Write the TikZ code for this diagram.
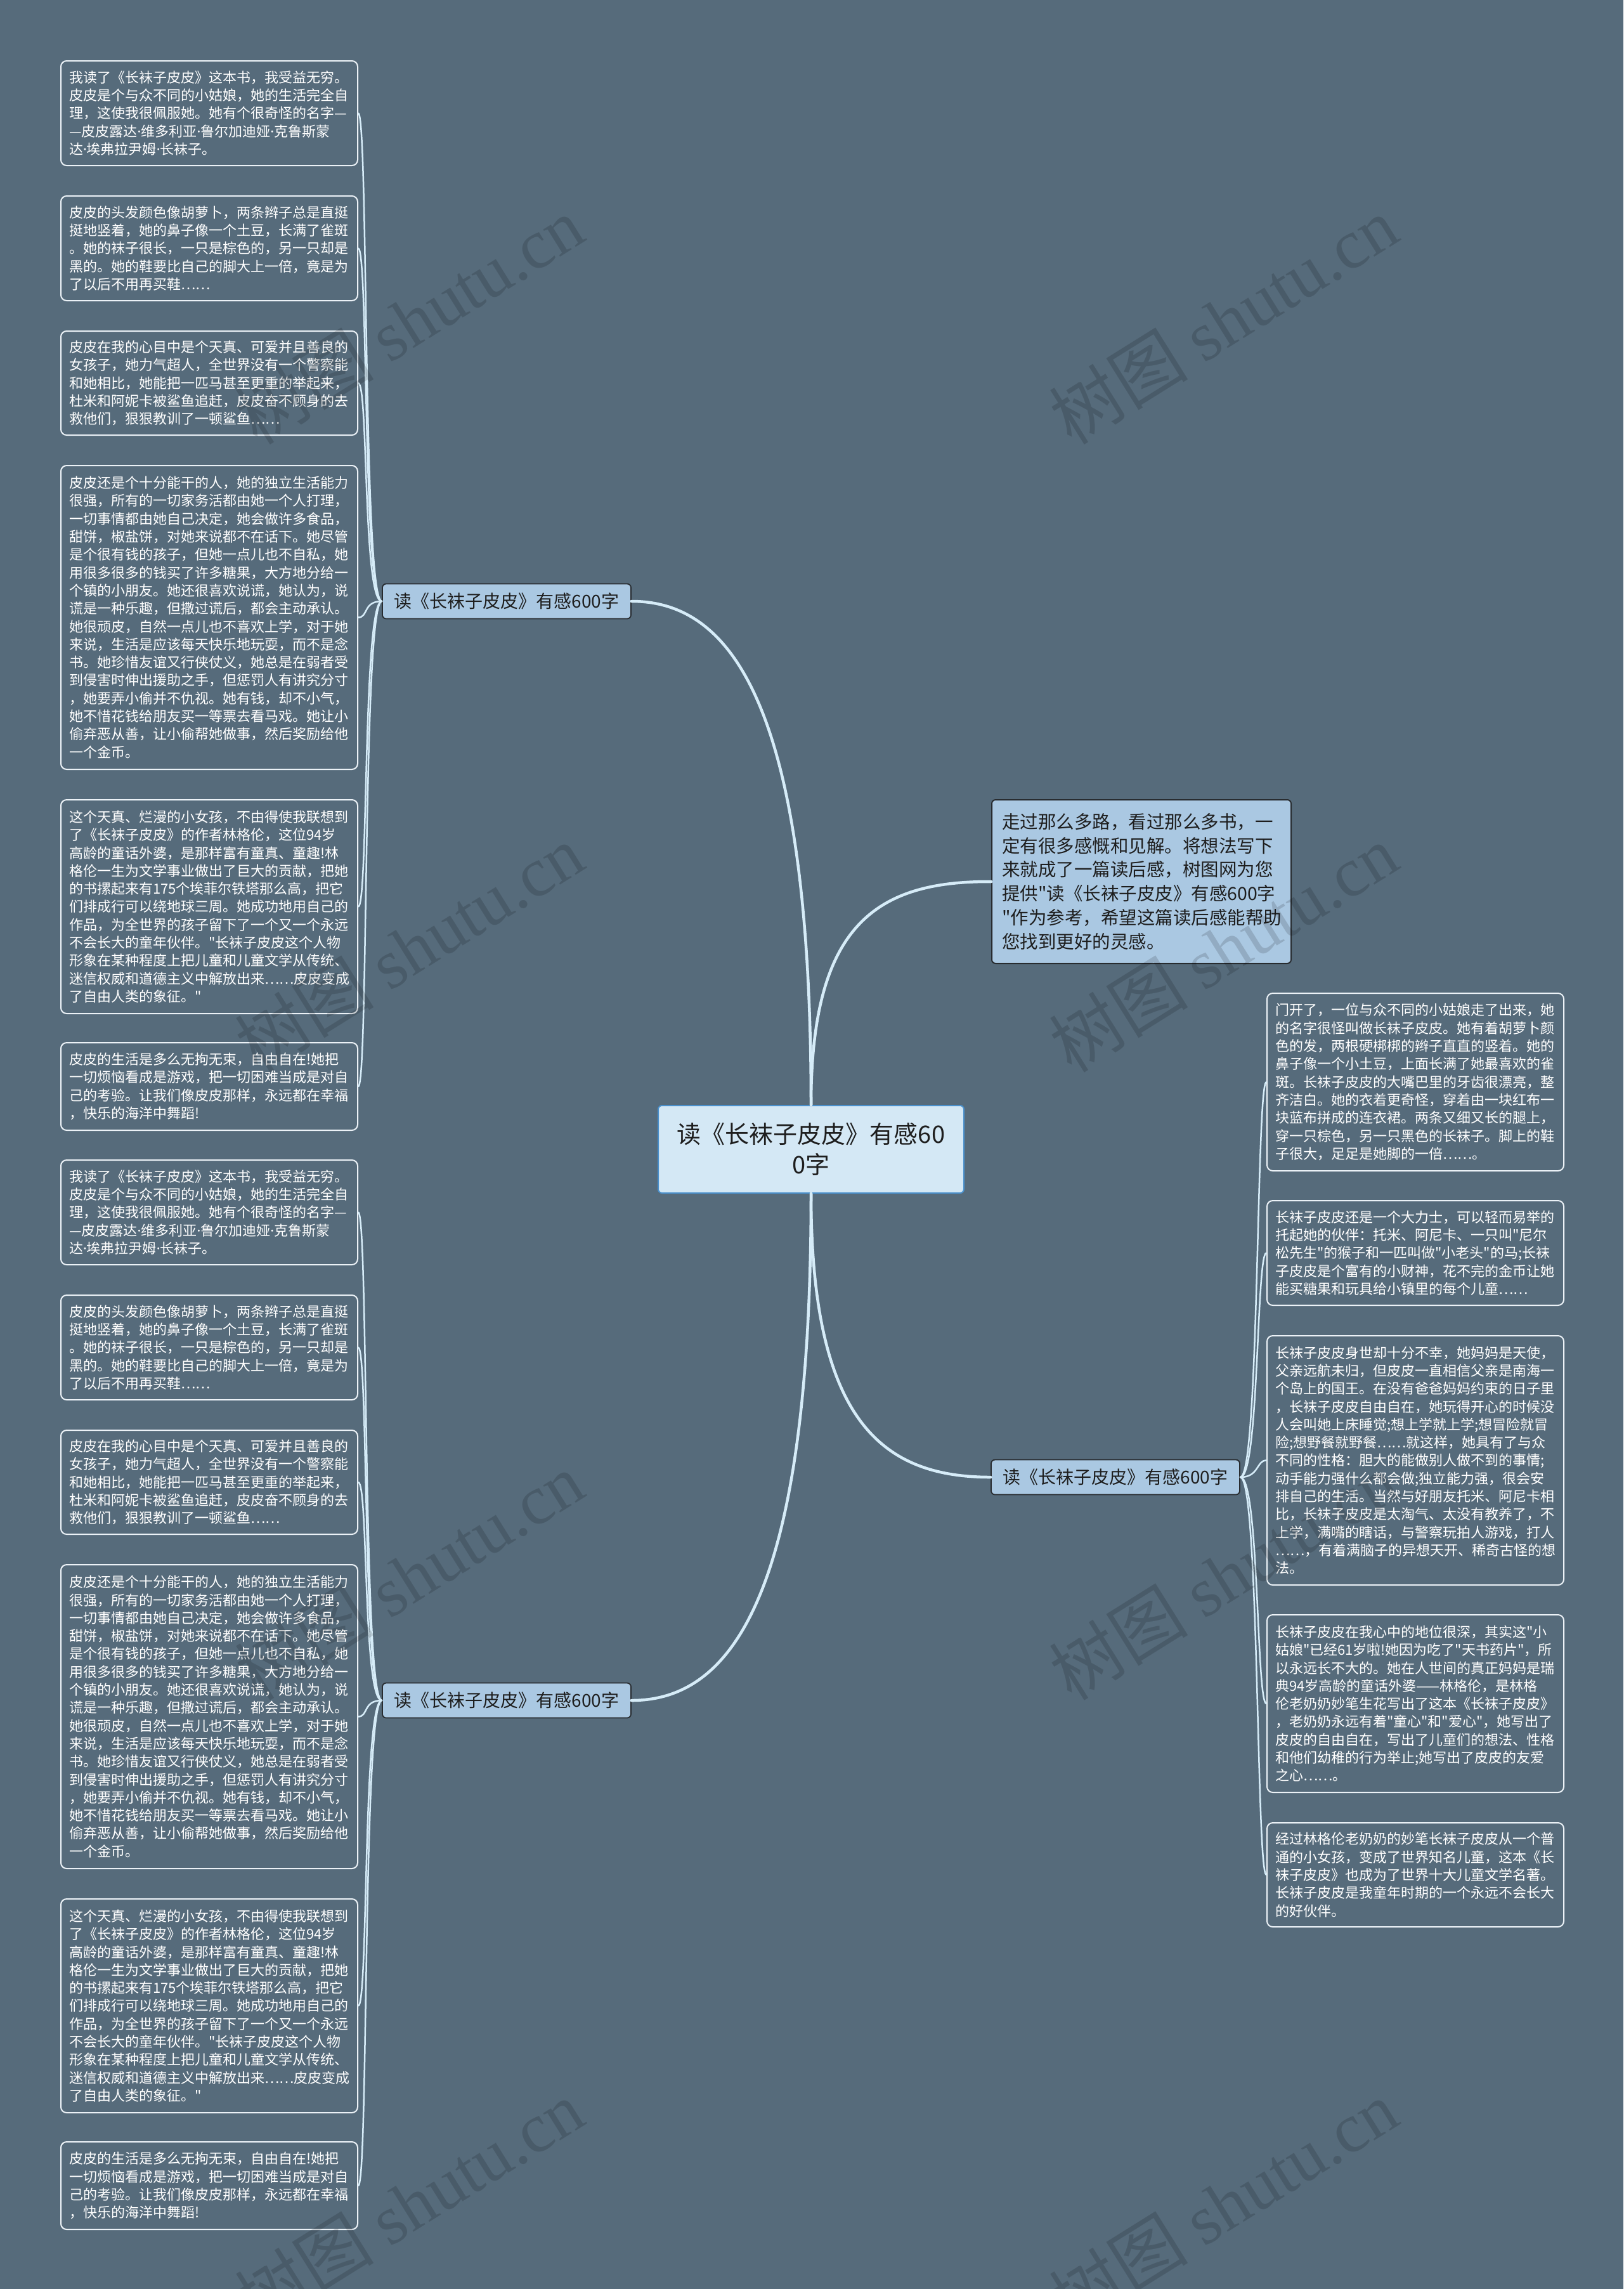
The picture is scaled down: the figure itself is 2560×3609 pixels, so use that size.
\documentclass[tikz,border=0pt]{standalone}
\usepackage{fontspec}
\setmainfont{Noto Sans CJK SC}[Ligatures=TeXOff]
\newfontfamily\wmlatin{Liberation Serif}
\newfontfamily\latinf{Noto Sans}[Ligatures=TeXOff]
\newcommand\mdot{{\latinf ·}}
\definecolor{bg}{RGB}{86,107,123}
\definecolor{leafborder}{RGB}{236,242,247}
\definecolor{linec}{RGB}{214,236,248}
\definecolor{centerfill}{RGB}{212,232,245}
\definecolor{centerdraw}{RGB}{74,144,204}
\definecolor{introfill}{RGB}{170,200,226}
\definecolor{darkdraw}{RGB}{40,44,48}
\definecolor{darktext}{RGB}{30,30,30}
\tikzset{
  leaf/.style={draw=leafborder, line width=2pt, rounded corners=9pt, fill=bg, text=white,
    font=\fontsize{22}{28.3}\selectfont, text width=442pt, align=left,
    inner xsep=13pt, inner ysep=0pt, anchor=north west},
  centernode/.style={draw=centerdraw, fill=centerfill, line width=2pt, rounded corners=6pt,
    minimum width=482pt, minimum height=138pt, text width=440pt, align=center,
    font=\fontsize{38}{48}\selectfont, text=darktext, inner sep=0pt},
  intronode/.style={draw=darkdraw, fill=introfill, line width=2pt, rounded corners=6pt,
    text width=440pt, inner xsep=16pt, inner ysep=0pt, minimum height=258pt, align=left,
    font=\fontsize{28.5}{37.8}\selectfont, text=darktext, anchor=north west},
  branch/.style={draw=darkdraw, fill=introfill, line width=1.8pt, rounded corners=6pt,
    minimum width=392pt, minimum height=55pt, inner sep=0pt,
    font=\fontsize{28}{34}\selectfont, text=darktext},
  mainline/.style={draw=linec, line width=4.5pt, line cap=round},
  leafline/.style={draw=linec, line width=2.5pt, line cap=round},
  wmark/.style={text=black, text opacity=0.14, rotate=32, font=\fontsize{110}{118}\selectfont}
}
\begin{document}
\begin{tikzpicture}[x=1pt,y=-1pt]
\useasboundingbox (0,0) rectangle (2560,3609);
\fill[bg] (0,0) rectangle (2560,3609);

% central and first-level nodes
\node[centernode] (c) at (1279,1812) {读《长袜子皮皮》有感60\\0字};
\node[intronode] (intro) at (1563,1260) {走过那么多路，看过那么多书，一\\定有很多感慨和见解。将想法写下\\来就成了一篇读后感，树图网为您\\提供"读《长袜子皮皮》有感600字\\"作为参考，希望这篇读后感能帮助\\您找到更好的灵感。};
\node[branch] (bl1) at (799,948) {读《长袜子皮皮》有感600字};
\node[branch] (bl2) at (799,2681) {读《长袜子皮皮》有感600字};
\node[branch] (br) at (1759,2329) {读《长袜子皮皮》有感600字};

% left leaves, two identical groups
\foreach \g/\off in {a/0,b/1733}{
\node[leaf, minimum height=165pt] (\g1) at (95,95+\off) {我读了《长袜子皮皮》这本书，我受益无穷。\\皮皮是个与众不同的小姑娘，她的生活完全自\\理，这使我很佩服她。她有个很奇怪的名字—\\—皮皮露达\mdot 维多利亚\mdot 鲁尔加迪娅\mdot 克鲁斯蒙\\达\mdot 埃弗拉尹姆\mdot 长袜子。};
\node[leaf, minimum height=165pt] (\g2) at (95,308+\off) {皮皮的头发颜色像胡萝卜，两条辫子总是直挺\\挺地竖着，她的鼻子像一个土豆，长满了雀斑\\。她的袜子很长，一只是棕色的，另一只却是\\黑的。她的鞋要比自己的脚大上一倍，竟是为\\了以后不用再买鞋……};
\node[leaf, minimum height=164pt] (\g3) at (95,521+\off) {皮皮在我的心目中是个天真、可爱并且善良的\\女孩子，她力气超人，全世界没有一个警察能\\和她相比，她能把一匹马甚至更重的举起来，\\杜米和阿妮卡被鲨鱼追赶，皮皮奋不顾身的去\\救他们，狠狠教训了一顿鲨鱼……};
\node[leaf, minimum height=479pt] (\g4) at (95,733+\off) {皮皮还是个十分能干的人，她的独立生活能力\\很强，所有的一切家务活都由她一个人打理，\\一切事情都由她自己决定，她会做许多食品，\\甜饼，椒盐饼，对她来说都不在话下。她尽管\\是个很有钱的孩子，但她一点儿也不自私，她\\用很多很多的钱买了许多糖果，大方地分给一\\个镇的小朋友。她还很喜欢说谎，她认为，说\\谎是一种乐趣，但撒过谎后，都会主动承认。\\她很顽皮，自然一点儿也不喜欢上学，对于她\\来说，生活是应该每天快乐地玩耍，而不是念\\书。她珍惜友谊又行侠仗义，她总是在弱者受\\到侵害时伸出援助之手，但惩罚人有讲究分寸\\，她要弄小偷并不仇视。她有钱，却不小气，\\她不惜花钱给朋友买一等票去看马戏。她让小\\偷弃恶从善，让小偷帮她做事，然后奖励给他\\一个金币。};
\node[leaf, minimum height=337pt] (\g5) at (95,1260+\off) {这个天真、烂漫的小女孩，不由得使我联想到\\了《长袜子皮皮》的作者林格伦，这位94岁\\高龄的童话外婆，是那样富有童真、童趣!林\\格伦一生为文学事业做出了巨大的贡献，把她\\的书摞起来有175个埃菲尔铁塔那么高，把它\\们排成行可以绕地球三周。她成功地用自己的\\作品，为全世界的孩子留下了一个又一个永远\\不会长大的童年伙伴。"长袜子皮皮这个人物\\形象在某种程度上把儿童和儿童文学从传统、\\迷信权威和道德主义中解放出来……皮皮变成\\了自由人类的象征。"};
\node[leaf, minimum height=138pt] (\g6) at (95,1643+\off) {皮皮的生活是多么无拘无束，自由自在!她把\\一切烦恼看成是游戏，把一切困难当成是对自\\己的考验。让我们像皮皮那样，永远都在幸福\\，快乐的海洋中舞蹈!};
}

% right leaves
\node[leaf, minimum height=280pt] (r1) at (1997,1565) {门开了，一位与众不同的小姑娘走了出来，她\\的名字很怪叫做长袜子皮皮。她有着胡萝卜颜\\色的发，两根硬梆梆的辫子直直的竖着。她的\\鼻子像一个小土豆，上面长满了她最喜欢的雀\\斑。长袜子皮皮的大嘴巴里的牙齿很漂亮，整\\齐洁白。她的衣着更奇怪，穿着由一块红布一\\块蓝布拼成的连衣裙。两条又细又长的腿上，\\穿一只棕色，另一只黑色的长袜子。脚上的鞋\\子很大，足足是她脚的一倍……。};
\node[leaf, minimum height=165pt] (r2) at (1997,1892) {长袜子皮皮还是一个大力士，可以轻而易举的\\托起她的伙伴：托米、阿尼卡、一只叫"尼尔\\松先生"的猴子和一匹叫做"小老头"的马;长袜\\子皮皮是个富有的小财神，花不完的金币让她\\能买糖果和玩具给小镇里的每个儿童……};
\node[leaf, minimum height=393pt] (r3) at (1997,2105) {长袜子皮皮身世却十分不幸，她妈妈是天使，\\父亲远航未归，但皮皮一直相信父亲是南海一\\个岛上的国王。在没有爸爸妈妈约束的日子里\\，长袜子皮皮自由自在，她玩得开心的时候没\\人会叫她上床睡觉;想上学就上学;想冒险就冒\\险;想野餐就野餐……就这样，她具有了与众\\不同的性格：胆大的能做别人做不到的事情;\\动手能力强什么都会做;独立能力强，很会安\\排自己的生活。当然与好朋友托米、阿尼卡相\\比，长袜子皮皮是太淘气、太没有教养了，不\\上学，满嘴的瞎话，与警察玩拍人游戏，打人\\……，有着满脑子的异想天开、稀奇古怪的想\\法。};
\node[leaf, minimum height=280pt] (r4) at (1997,2545) {长袜子皮皮在我心中的地位很深，其实这"小\\姑娘"已经61岁啦!她因为吃了"天书药片"，所\\以永远长不大的。她在人世间的真正妈妈是瑞\\典94岁高龄的童话外婆——林格伦，是林格\\伦老奶奶妙笔生花写出了这本《长袜子皮皮》\\，老奶奶永远有着"童心"和"爱心"，她写出了\\皮皮的自由自在，写出了儿童们的想法、性格\\和他们幼稚的行为举止;她写出了皮皮的友爱\\之心……。};
\node[leaf, minimum height=164pt] (r5) at (1997,2873) {经过林格伦老奶奶的妙笔长袜子皮皮从一个普\\通的小女孩，变成了世界知名儿童，这本《长\\袜子皮皮》也成为了世界十大儿童文学名著。\\长袜子皮皮是我童年时期的一个永远不会长大\\的好伙伴。};

% main connectors
\draw[mainline] (c.north) .. controls (1279,1107) and (1151,948) .. (bl1.east);
\draw[mainline] (c.north) .. controls (1279,1460) and (1380,1389) .. (intro.west);
\draw[mainline] (c.south) .. controls (1279,2521) and (1151,2681) .. (bl2.east);
\draw[mainline] (c.south) .. controls (1279,2239) and (1390,2329) .. (br.west);

% leaf connectors
\foreach \i in {1,...,6}{
  \draw[leafline] (bl1.west) .. controls +(-30,0) and +(16,0) .. (a\i.east);
  \draw[leafline] (bl2.west) .. controls +(-30,0) and +(16,0) .. (b\i.east);
}
\foreach \i in {1,...,5}{
  \draw[leafline] (br.east) .. controls +(30,0) and +(-16,0) .. (r\i.west);
}

% watermarks
\foreach \wy in {505,1495,2485,3475}{
  \node[wmark] (wml\wy) at (645,\wy) {树图 {\wmlatin shutu.cn}};
  \node[wmark] (wmr\wy) at (1929,\wy) {树图 {\wmlatin shutu.cn}};
}
\end{tikzpicture}
\end{document}
